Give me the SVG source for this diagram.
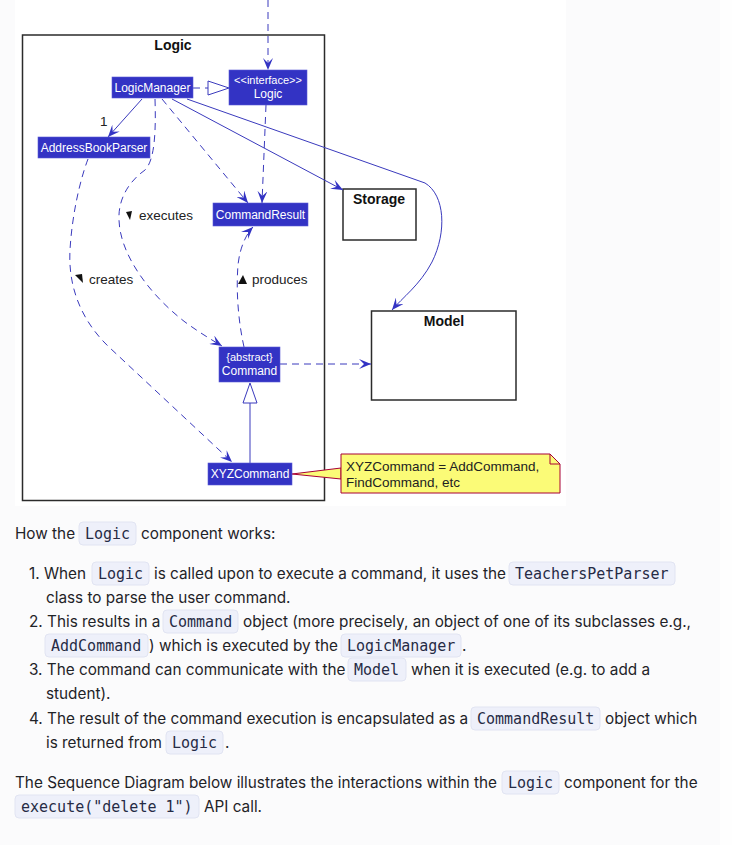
<svg xmlns="http://www.w3.org/2000/svg" width="732" height="845" viewBox="0 0 732 845">
  <style>
    .cls { fill: #3333C4; stroke: #5a5ad8; stroke-width: 0.6; }
    .clsT { font-family: "Liberation Sans", Arial, sans-serif; font-size: 12px; fill: #ffffff; text-anchor: middle; }
    .clsS { font-family: "Liberation Sans", Arial, sans-serif; font-size: 11px; fill: #ffffff; text-anchor: middle; }
    .pkg { fill: #ffffff; stroke: #2b2b2b; stroke-width: 1.5; }
    .pkgT { font-family: "Liberation Sans", Arial, sans-serif; font-size: 14px; font-weight: bold; fill: #111111; text-anchor: middle; }
    .lbl { font-family: "Liberation Sans", Arial, sans-serif; font-size: 13.5px; fill: #222222; }
    .ln { fill: none; stroke: #3a3abd; stroke-width: 1; }
    .dash { stroke-dasharray: 7 5; }
    .prose { font-family: Inter, "Liberation Sans", sans-serif; font-size: 15.3px; fill: #1f2328; }
    .code { font-family: "DejaVu Sans Mono", "Liberation Mono", monospace; font-size: 15px; fill: #262b45; }
    .cbox { fill: #eef0fa; stroke: #e1e4f2; stroke-width: 1; }
  </style>
  <defs>
    <marker id="ah" viewBox="0 0 12 10" refX="12" refY="5" markerWidth="12" markerHeight="10" orient="auto" markerUnits="userSpaceOnUse">
      <path d="M0,0 L12,5 L0,10 L5,5 Z" fill="#3333C4"/>
    </marker>
  </defs>

  <!-- page and diagram backgrounds -->
  <rect x="0" y="0" width="732" height="845" fill="#fefefe"/>
  <rect x="0" y="0" width="720" height="845" fill="#fbfbfc"/>
  <rect x="15" y="0" width="551" height="506" fill="#ffffff"/>

  <!-- packages -->
  <g id="pkg-logic">
    <rect class="pkg" x="22.5" y="35" width="302" height="465.5"/>
    <text class="pkgT" x="173" y="50">Logic</text>
  </g>
  <g id="pkg-storage">
    <rect class="pkg" x="343" y="189" width="73" height="51"/>
    <text class="pkgT" x="379" y="204">Storage</text>
  </g>
  <g id="pkg-model">
    <rect class="pkg" x="371.5" y="311" width="144.5" height="89"/>
    <text class="pkgT" x="444" y="326">Model</text>
  </g>

  <!-- connectors -->
  <g id="connectors">
    <path class="ln dash" d="M268,0 L268,70" marker-end="url(#ah)"/>
    <path class="ln dash" d="M193,88 L208,88"/>
    <polygon points="208,81 229,88 208,95" fill="#ffffff" stroke="#3a3abd" stroke-width="1"/>
    <path class="ln" d="M142,99 L108,137" marker-end="url(#ah)"/>
    <path class="ln dash" d="M162,99 L248,203" marker-end="url(#ah)"/>
    <path class="ln dash" d="M266,105 L262,203" marker-end="url(#ah)"/>
    <path class="ln" d="M172,99 L343,190" marker-end="url(#ah)"/>
    <path class="ln" d="M187,99 L425,183 C445,195 447,232 432,262 C420,285 402,298 392,310" marker-end="url(#ah)"/>
    <path class="ln dash" d="M155,99 C156,130 155,160 145,170 C128,182 118,200 119,220 C120,255 150,295 185,322 C200,333 212,340 222,346" marker-end="url(#ah)"/>
    <path class="ln dash" d="M88,159 C80,180 72,215 70,250 C68,285 80,320 110,348 L232,462" marker-end="url(#ah)"/>
    <path class="ln dash" d="M244,347 C238,320 236,290 238,265 C240,245 248,232 253,227" marker-end="url(#ah)"/>
    <path class="ln dash" d="M280,364 L371,364" marker-end="url(#ah)"/>
    <path class="ln" d="M250,463 L250,403"/>
    <polygon points="243,403 250,383 257,403" fill="#ffffff" stroke="#3a3abd" stroke-width="1"/>
    <polygon points="292,474 341,468 341,479" fill="#FBFB77" stroke="#A80036" stroke-width="1"/>
    <!-- association labels -->
    <text class="lbl" x="100" y="126" font-size="14">1</text>
    <polygon points="126,212 132,211 130,220" fill="#111111"/>
    <text class="lbl" x="139" y="220">executes</text>
    <polygon points="75,275 82,274 83,283" fill="#111111"/>
    <text class="lbl" x="89" y="284">creates</text>
    <polygon points="243,275 238,284 247,284" fill="#111111"/>
    <text class="lbl" x="252" y="284">produces</text>
  </g>

  <!-- classes -->
  <g id="LogicManager">
    <rect class="cls" x="112" y="77" width="81" height="21"/>
    <text class="clsT" x="152.5" y="92">LogicManager</text>
  </g>
  <g id="LogicInterface">
    <rect class="cls" x="229" y="70" width="78" height="35"/>
    <text class="clsS" x="268" y="84">&lt;&lt;interface&gt;&gt;</text>
    <text class="clsT" x="268" y="98">Logic</text>
  </g>
  <g id="AddressBookParser">
    <rect class="cls" x="38" y="137" width="112" height="21"/>
    <text class="clsT" x="94" y="152">AddressBookParser</text>
  </g>
  <g id="CommandResult">
    <rect class="cls" x="213" y="203" width="95" height="23"/>
    <text class="clsT" x="260.5" y="219">CommandResult</text>
  </g>
  <g id="Command">
    <rect class="cls" x="219" y="347" width="61" height="35"/>
    <text class="clsS" x="249.5" y="361">{abstract}</text>
    <text class="clsT" x="249.5" y="375">Command</text>
  </g>
  <g id="XYZCommand">
    <rect class="cls" x="208" y="463" width="84" height="22"/>
    <text class="clsT" x="250" y="478">XYZCommand</text>
  </g>
  <g id="note">
    <path d="M341,454 L550,454 L560,464 L560,493 L341,493 Z" fill="#FBFB77" stroke="#A80036" stroke-width="1"/>
    <path d="M550,454 L550,464 L560,464" fill="none" stroke="#A80036" stroke-width="1"/>
    <text class="lbl" x="346" y="471" fill="#111">XYZCommand = AddCommand,</text>
    <text class="lbl" x="346" y="487" fill="#111">FindCommand, etc</text>
  </g>

  <!-- explanatory text -->
  <g id="text">
    <text class="prose" x="15" y="539">How the</text>
    <rect class="cbox" x="79" y="522" width="57" height="23" rx="4"/>
    <text class="code" x="85" y="539">Logic</text>
    <text class="prose" x="141" y="539">component works:</text>

    <text class="prose" x="29" y="579">1. When</text>
    <rect class="cbox" x="92" y="562" width="57" height="23" rx="4"/>
    <text class="code" x="98" y="579">Logic</text>
    <text class="prose" x="154" y="579">is called upon to execute a command, it uses the</text>
    <rect class="cbox" x="509" y="562" width="166" height="23" rx="4"/>
    <text class="code" x="515" y="579">TeachersPetParser</text>
    <text class="prose" x="46" y="603">class to parse the user command.</text>

    <text class="prose" x="29" y="627">2. This results in a</text>
    <rect class="cbox" x="163" y="610" width="75" height="23" rx="4"/>
    <text class="code" x="169" y="627">Command</text>
    <text class="prose" x="243" y="627">object (more precisely, an object of one of its subclasses e.g.,</text>
    <rect class="cbox" x="45" y="634" width="103" height="23" rx="4"/>
    <text class="code" x="51" y="651">AddCommand</text>
    <text class="prose" x="149" y="651">) which is executed by the</text>
    <rect class="cbox" x="341" y="634" width="120" height="23" rx="4"/>
    <text class="code" x="347" y="651">LogicManager</text>
    <text class="prose" x="462" y="651">.</text>

    <text class="prose" x="29" y="675">3. The command can communicate with the</text>
    <rect class="cbox" x="348" y="658" width="58" height="23" rx="4"/>
    <text class="code" x="354" y="675">Model</text>
    <text class="prose" x="411" y="675">when it is executed (e.g. to add a</text>
    <text class="prose" x="46" y="699">student).</text>

    <text class="prose" x="29" y="724">4. The result of the command execution is encapsulated as a</text>
    <rect class="cbox" x="471" y="707" width="129" height="23" rx="4"/>
    <text class="code" x="477" y="724">CommandResult</text>
    <text class="prose" x="605" y="724">object which</text>
    <text class="prose" x="46" y="748">is returned from</text>
    <rect class="cbox" x="166" y="731" width="57" height="23" rx="4"/>
    <text class="code" x="172" y="748">Logic</text>
    <text class="prose" x="225" y="748">.</text>

    <text class="prose" x="15" y="788">The Sequence Diagram below illustrates the interactions within the</text>
    <rect class="cbox" x="502" y="771" width="57" height="23" rx="4"/>
    <text class="code" x="508" y="788">Logic</text>
    <text class="prose" x="564" y="788">component for the</text>
    <rect class="cbox" x="15" y="795" width="184" height="23" rx="4"/>
    <text class="code" x="21" y="812">execute("delete 1")</text>
    <text class="prose" x="204" y="812">API call.</text>
  </g>
</svg>
